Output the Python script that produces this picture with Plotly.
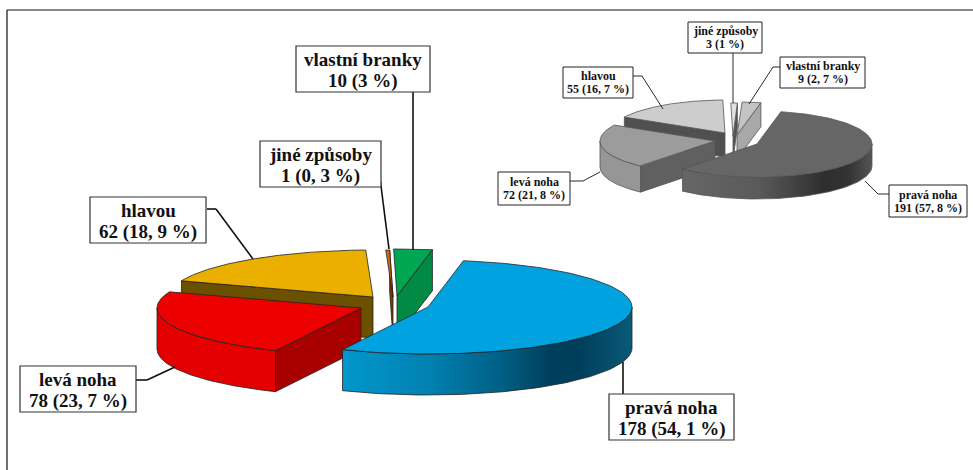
import numpy as np
import plotly.graph_objects as go

# ---- data ----
categories = ["pravá noha", "levá noha", "hlavou", "jiné způsoby", "vlastní branky"]
main_values = [178, 78, 62, 1, 10]
main_pct = ["54, 1", "23, 7", "18, 9", "0, 3", "3"]
inset_values = [191, 72, 55, 3, 9]
inset_pct = ["57, 8", "21, 8", "16, 7", "1", "2, 7"]

# ---- geometry / style (separate from data) ----
draw_order = [2, 3, 4, 1, 0]
MAIN = dict(start=10, rx=204, ry=47, depth=[41, 41, 41, 41, 41], edge="#222222",
            apex=[(428, 307), (361, 308), (373, 297), (393, 297), (397, 296)],
            top=["#00a2e0", "#ec0000", "#ebaf00", "#d8640f", "#00a651"],
            side=[None, "#e40000", "#6b5000", "#7a3c00", "#008a43"],
            cut=[None, "#a80000", "#6b5000", "#7a3c00", "#008a43"],
            grad=[[0, "#0097cc"], [0.3, "#0081b0"], [0.55, "#005f85"], [0.72, "#003f5c"],
                  [0.82, "#003f5c"], [1, "#0a5a78"]])
INSET = dict(start=12, rx=115, ry=33, depth=[22, 26, 24, 24, 24], edge="#555555",
             apex=[(757, 144), (715, 141), (725, 133), (733, 136), (737, 135)],
             top=["#666666", "#9c9c9c", "#cdcdcd", "#e2e2e2", "#c4c4c4"],
             side=[None, "#969696", "#505050", "#555555", "#a8a8a8"],
             cut=[None, "#606060", "#505050", "#555555", "#a8a8a8"],
             grad=[[0, "#666666"], [0.4, "#5a5a5a"], [0.75, "#2e2e2e"], [0.88, "#333333"], [1, "#555555"]])

fig = go.Figure()


def poly(xs, ys, edge, color=None, grad=None):
    kw = dict(fillgradient=grad) if grad else dict(fillcolor=color)
    fig.add_trace(go.Scatter(x=list(xs), y=list(ys), mode="lines", fill="toself",
                             line=dict(color=edge, width=0.8), hoverinfo="skip",
                             showlegend=False, **kw))


def draw_pie(values, g):
    total = sum(values)
    edges = g["start"] + np.concatenate([[0], np.cumsum(values)]) / total * 360
    for i in draw_order:
        a, b = edges[i], edges[i + 1]
        cx, cy = g["apex"][i]
        rx, ry, d = g["rx"], g["ry"], g["depth"][i]
        pt = lambda t: (cx + rx * np.sin(np.radians(t)), cy - ry * np.cos(np.radians(t)))
        # cut face looking at the viewer
        ang = None
        if i in (1, 2):
            ang = a
        elif i in (3, 4):
            ang = b
        if ang is not None:
            px, py = pt(ang)
            poly([cx, px, px, cx, cx], [cy, py, py + d, cy + d, cy], g["edge"], g["cut"][i])
        # outer wall, only the part facing the viewer
        lo, hi = max(a, 90), min(b, 270)
        if hi > lo:
            ts = np.linspace(lo, hi, 80)
            xs, ys = pt(ts)
            X = np.concatenate([xs, xs[::-1], xs[:1]])
            Y = np.concatenate([ys, ys[::-1] + d, ys[:1]])
            if g["side"][i] is None:
                grad = dict(type="horizontal", colorscale=g["grad"], start=float(xs.min()), stop=float(xs.max()))
                poly(X, Y, g["edge"], grad=grad)
            else:
                poly(X, Y, g["edge"], g["side"][i])
        # top face
        ts = np.linspace(a, b, 160)
        xs, ys = pt(ts)
        poly(np.concatenate([[cx], xs, [cx]]), np.concatenate([[cy], ys, [cy]]), g["edge"], g["top"][i])


draw_pie(main_values, MAIN)
draw_pie(inset_values, INSET)

shapes = [
    dict(type="line", x0=7, x1=973, y0=10, y1=10, line=dict(color="#111111", width=1.2)),
    dict(type="line", x0=7, x1=7, y0=10, y1=470, line=dict(color="#111111", width=1.2)),
]
annotations = []

# box (x0, x1, y0, y1) per category
main_boxes = [(609, 734, 394, 440), (20, 136, 366, 412), (90, 206, 197, 243), (260, 381, 141, 187), (296, 430, 46, 92)]
inset_boxes = [(889, 967, 185, 217), (498, 570, 172, 205), (563, 633, 67, 98), (688, 762, 22, 53), (780, 865, 57, 88)]

main_leaders = [[(623, 362), (623, 394)], [(136, 380), (147, 380), (175, 367)],
                [(207, 209), (216, 209), (253, 259)], [(380, 178), (389, 249)], [(413, 92), (413, 250)]]
inset_leaders = [[(889, 194), (878, 194), (865, 181)], [(570, 181), (583, 181), (600, 172)],
                 [(633, 76), (642, 76), (663, 109)], [(733, 53), (733, 103)], [(780, 67), (773, 67), (749, 104)]]


def labels(values, pct, boxes, leaders, size, gap, dy, lw, bw, bcol):
    for cat, v, p, box, lead in zip(categories, values, pct, boxes, leaders):
        x0, x1, y0, y1 = box
        for (ax, ay), (bx, by) in zip(lead[:-1], lead[1:]):
            shapes.append(dict(type="line", x0=ax, x1=bx, y0=ay, y1=by, line=dict(color="#111111", width=lw)))
        shapes.append(dict(type="rect", x0=x0, x1=x1, y0=y0, y1=y1, fillcolor="white",
                           line=dict(color=bcol, width=bw)))
        xm, ym = (x0 + x1) / 2, (y0 + y1) / 2 + dy
        for txt, yy in ((cat, ym - gap / 2), (f"{v} ({p} %)", ym + gap / 2)):
            annotations.append(dict(x=xm, y=yy, xref="x", yref="y", text=f"<b>{txt}</b>", showarrow=False,
                                    xanchor="center", yanchor="middle",
                                    font=dict(family="Liberation Serif", size=size, color="#111111")))


labels(main_values, main_pct, main_boxes, main_leaders, 19, 22, 1, 1.6, 1.2, "#333333")
labels(inset_values, inset_pct, inset_boxes, inset_leaders, 12, 13, 0, 0.9, 1.0, "#222222")

fig.update_layout(
    width=973, height=470, margin=dict(l=0, r=0, t=0, b=0),
    paper_bgcolor="white", plot_bgcolor="white", showlegend=False,
    xaxis=dict(range=[0, 973], visible=False, fixedrange=True),
    yaxis=dict(range=[470, 0], visible=False, fixedrange=True),
    shapes=shapes, annotations=annotations,
)
fig.write_html("out.html", config=dict(displayModeBar=False),
               post_script="document.body.style.margin='0';document.documentElement.style.overflow='hidden';")
